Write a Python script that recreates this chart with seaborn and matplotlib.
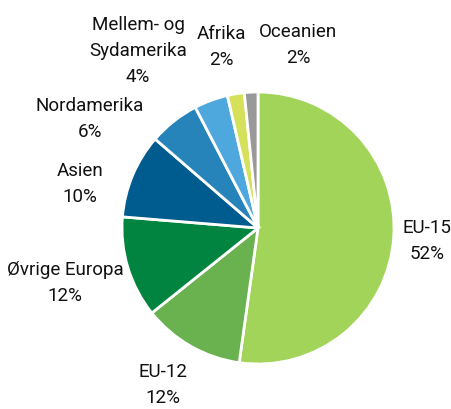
import seaborn as sns
import matplotlib.pyplot as plt

# Data
regions = ['EU-15', 'EU-12', 'Øvrige Europa', 'Asien', 'Nordamerika',
           'Mellem- og\nSydamerika', 'Afrika', 'Oceanien']
shares = [52, 12, 12, 10, 6, 4, 2, 1.6]
share_labels = ['52%', '12%', '12%', '10%', '6%', '4%', '2%', '2%']
colors = ['#A3D45A', '#6AB14F', '#00843F', '#005B8E', '#2684BA',
          '#4EA8DE', '#D5E05B', '#999999']

sns.set_theme(style='white')
plt.rcParams['font.family'] = ['Roboto', 'DejaVu Sans']

fig = plt.figure(figsize=(4.52, 4.09), dpi=100)
# pie centre ~ (258, 228) px, radius ~136 px
ax = fig.add_axes([122 / 452, (409 - 364) / 409, 272 / 452, 272 / 409])

ax.pie(shares, colors=colors, startangle=90, counterclock=False,
       radius=1, wedgeprops=dict(edgecolor='white', linewidth=2))
ax.set_xlim(-1, 1)
ax.set_ylim(-1, 1)
ax.set_aspect('equal')
ax.axis('off')

# label centres in pixels of the reference image
label_px = [(427, 241), (163, 385), (65, 283), (80, 184), (90, 119),
            (138, 51), (221, 47), (298, 45)]

for name, pct, (px, py) in zip(regions, share_labels, label_px):
    x = (px - 258) / 136
    y = (228 - py) / 136
    ax.text(x, y, f'{name}\n{pct}', ha='center', va='center',
            fontsize=13.5, color='#111111', linespacing=1.6, clip_on=False)

plt.savefig('out.png', dpi=100)
